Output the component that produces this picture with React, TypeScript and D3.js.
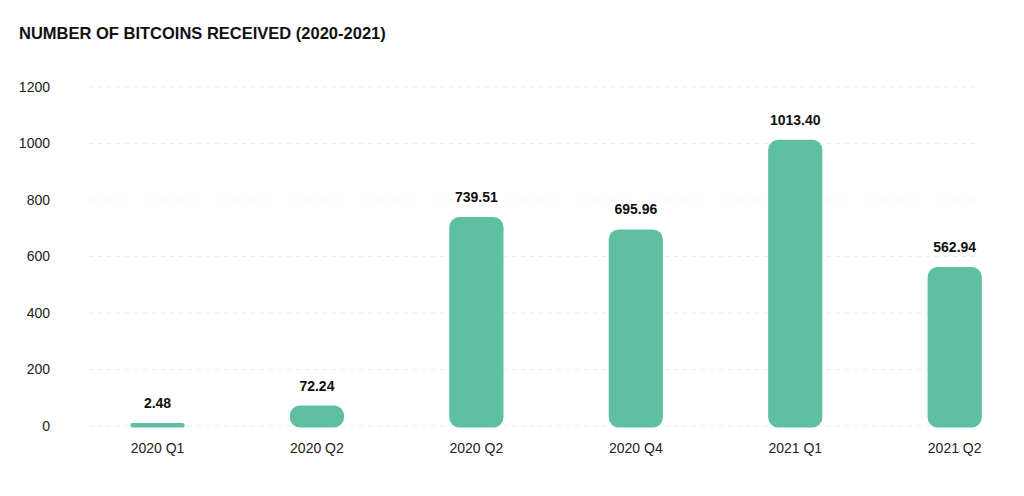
import { scaleLinear, scalePoint } from "d3";

const quarters = ["2020 Q1", "2020 Q2", "2020 Q2", "2020 Q4", "2021 Q1", "2021 Q2"];
const bitcoins = [2.48, 72.24, 739.51, 695.96, 1013.4, 562.94];
const yTicks = [0, 200, 400, 600, 800, 1000, 1200];

const width = 1024;
const height = 496;
const font = "'Liberation Sans', Arial, Helvetica, sans-serif";
const barColor = "#5ebfa3";

export default function App() {
  const keys = quarters.map((_, i) => String(i));

  const x = scalePoint<string>().domain(keys).range([157.5, 954.7]);
  const y = scaleLinear().domain([0, 1200]).range([426, 87]);
  const barWidth = x.step() * 0.34;

  return (
    <svg width={width} height={height} style={{ display: "block" }}>
      <style>{`body{margin:0}`}</style>
      <rect width={width} height={height} fill="#fff" />

      <text x={19} y={38.5} fontFamily={font} fontWeight="bold" fontSize={16.5} fill="#111">
        NUMBER OF BITCOINS RECEIVED (2020-2021)
      </text>

      {/* grid + y labels */}
      {yTicks.map(t => (
        <g key={t}>
          <line
            x1={89}
            x2={976}
            y1={y(t)}
            y2={y(t)}
            stroke="#e4f1ed"
            strokeWidth={1}
            strokeDasharray="4 5"
          />
          <text
            x={50}
            y={y(t)}
            dy="0.35em"
            textAnchor="end"
            fontFamily={font}
            fontSize={14}
            fill="#222"
          >
            {t}
          </text>
        </g>
      ))}

      {/* bars */}
      {bitcoins.map((v, i) => {
        const cx = x(String(i)) as number;
        const bottom = y(0) + 1.5;
        const top = Math.min(y(v), bottom - 4.5);
        const h = bottom - top;
        const r = Math.min(10, h / 2);
        return (
          <g key={i}>
            <rect
              x={cx - barWidth / 2}
              y={top}
              width={barWidth}
              height={h}
              rx={r}
              ry={r}
              fill={barColor}
            />
            <text
              x={cx}
              y={top - 15}
              textAnchor="middle"
              fontFamily={font}
              fontWeight="bold"
              fontSize={14}
              fill="#111"
            >
              {v.toFixed(2)}
            </text>
            <text
              x={cx}
              y={453}
              textAnchor="middle"
              fontFamily={font}
              fontSize={14}
              fill="#222"
            >
              {quarters[i]}
            </text>
          </g>
        );
      })}
    </svg>
  );
}
